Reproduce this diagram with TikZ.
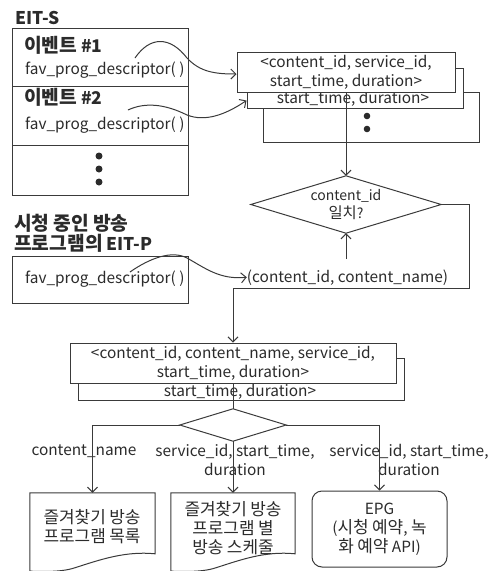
\documentclass[tikz,border=0pt]{standalone}
\usepackage{fontspec}
\setmainfont{Noto Sans CJK KR}
\newfontfamily\hgfont{Noto Sans CJK KR}[Scale=1.1]
\newfontfamily\latfont{Noto Sans CJK KR}
% set Hangul syllables a little larger than the Latin text around them
\XeTeXinterchartokenstate=1
\newXeTeXintercharclass\hgclass
\count255="AC00
\loop
  \XeTeXcharclass\count255=\hgclass
  \ifnum\count255<"D7A3 \advance\count255 by 1
\repeat
\XeTeXinterchartoks 0 \hgclass = {\hgfont}
\XeTeXinterchartoks 4095 \hgclass = {\hgfont}
\XeTeXinterchartoks \hgclass 0 = {\latfont}
\XeTeXinterchartoks \hgclass 4095 = {\latfont}
\usetikzlibrary{arrows.meta,calc}
\definecolor{ink}{HTML}{2B2B2B}
\definecolor{edgecol}{HTML}{3A3A3A}
% document shape: flat top, wavy bottom rising to the right
\newcommand\docoutline[1]{%
  \draw[edgeline] (#1.south west) -- (#1.north west) -- (#1.north east)
    -- ($(#1.north east)+(0,61)$)
    .. controls +(-30,-3) and +(25,-8) .. ($(#1.north west)+(45,75)$)
    .. controls +(-15,5) and +(8,0) .. (#1.south west);}
\begin{document}
\begin{tikzpicture}[x=1pt,y=-1pt,
  every node/.style={inner sep=0pt, text=ink, font=\fontsize{15.4}{19}\selectfont},
  edgeline/.style={draw=edgecol, line width=1pt},
  framebox/.style={edgeline, fill=white, rectangle},
  arr/.style={edgeline, -{Straight Barb[length=5pt,width=10pt]}},
  headtxt/.style={font=\fontsize{17.5}{19.5}\selectfont\bfseries},
  dtext/.style={font=\fontsize{14}{17.5}\selectfont},
  ghost/.style={rectangle, inner sep=0pt},
]
\useasboundingbox (0,0) rectangle (489,571);

% ---- EIT-S table ----
\node[headtxt, anchor=base west] (eitsT) at (15,24) {EIT-S};
\node[framebox, minimum width=176pt, minimum height=167pt] (eits) at (100,111.5) {};
\draw[edgeline] (12,86) -- (188,86) (12,145) -- (188,145);
\node[headtxt, anchor=base west] (ev1) at (24,52) {이벤트 \#1};
\node[anchor=base west] (fav1) at (25,74) {fav\_prog\_descriptor( )};
\node[headtxt, anchor=base west] (ev2) at (24,104) {이벤트 \#2};
\node[anchor=base west] (fav2) at (25,129) {fav\_prog\_descriptor( )};
\fill[ink] (99,156) circle (3.5) (99,169) circle (3.5) (99,182) circle (3.5);

% ---- EIT-P of the current programme ----
\node[headtxt, anchor=base west, align=left] (eitpT) at (14,250) {시청 중인 방송\\프로그램의 EIT-P};
\node[framebox, minimum width=176pt, minimum height=47pt] (eitp) at (100,279.5) {};
\node[anchor=base west] (fav3) at (25,283) {fav\_prog\_descriptor( )};

% ---- stacked records from EIT-S ----
\node[framebox, minimum width=216pt, minimum height=50pt] (stk3) at (371,117) {};
\fill[ink] (367,116) circle (3.3) (367,129) circle (3.3);
\node[framebox, minimum width=216pt, minimum height=40pt] (stk2) at (355,88) {};
\node[anchor=base] (stk2t) at (353,103) {start\_time, duration>};
\node[framebox, minimum width=218pt, minimum height=40pt, align=center] (stk1) at (346,72)
  {<content\_id, service\_id,\\start\_time, duration>};

% ---- content_id match ----
\node[ghost, minimum width=190pt, minimum height=57pt, align=center, dtext] (d1) at (346,204.5)
  {content\_id\\일치?};
\draw[edgeline] (d1.north) -- (d1.east) -- (d1.south) -- (d1.west) -- cycle;
\node[anchor=base] (cn) at (347.5,282) {(content\_id, content\_name)};

% ---- merged records ----
\node[framebox, minimum width=326pt, minimum height=42pt] (b2b) at (241,379) {};
\node[anchor=base] (b2bt) at (240,396) {start\_time, duration>};
\node[framebox, minimum width=326pt, minimum height=40pt, align=center] (b2f) at (233,363)
  {<content\_id, content\_name, service\_id,\\start\_time, duration>};

\node[ghost, minimum width=106pt, minimum height=32pt] (d2) at (233,425) {};
\draw[edgeline] (d2.north) -- (d2.east) -- (d2.south) -- (d2.west) -- cycle;

% ---- outputs ----
\node[ghost, minimum width=125pt, minimum height=78pt] (doc1) at (92.5,532) {};
\node[ghost, minimum width=124pt, minimum height=78pt] (doc2) at (233,532) {};
\docoutline{doc1}
\docoutline{doc2}
\node[align=center] (doc1t) at (92,527) {즐겨찾기 방송\\프로그램 목록};
\node[align=center] (doc2t) at (233,528) {즐겨찾기 방송\\프로그램 별\\방송 스케줄};
\node[framebox, rounded corners=10pt, minimum width=135pt, minimum height=76pt, align=center]
  (epg) at (379.5,529) {EPG\\(시청 예약, 녹\\화 예약 API)};

\node[anchor=base] (lb1) at (84,455) {content\_name};
\node[align=center] (lb2) at (235,460) {service\_id, start\_time,\\duration};
\node[align=center] (lb3) at (409,460) {service\_id, start\_time,\\duration};

% ---- connectors ----
\coordinate (s1) at (135,58);
\coordinate (s2) at (128,110);
\coordinate (s3) at (130,272);
\draw[arr] (s1) .. controls (150,36) and (170,36) .. (187,58)
  .. controls (200,72) and (215,74) .. ($(stk1.west)+(0,2)$);
\draw[arr] (s2) .. controls (145,102) and (165,104) .. (187,115)
  .. controls (205,122) and (225,115) .. ($(stk2.south west)+(0,-8)$);
\draw[arr] (s3) .. controls (150,258) and (172,250) .. (187,258)
  .. controls (205,268) and (220,280) .. (cn.west);
\draw[arr] (stk1.south) -- (d1.north);
\draw[arr, shorten <=10pt] (d1.south |- cn.north) -- (d1.south);
\coordinate (bend) at (469,288);
\draw[arr] (d1.east) -| (bend) -- (bend -| b2f.north) -- (b2f.north);
\draw[edgeline] (b2f.south) -- (d2.north);
\draw[arr] (d2.west) -| (doc1.north);
\draw[arr] (d2.south) -- (doc2.north);
\draw[arr] (d2.east) -| (epg.north);
\end{tikzpicture}
\end{document}
